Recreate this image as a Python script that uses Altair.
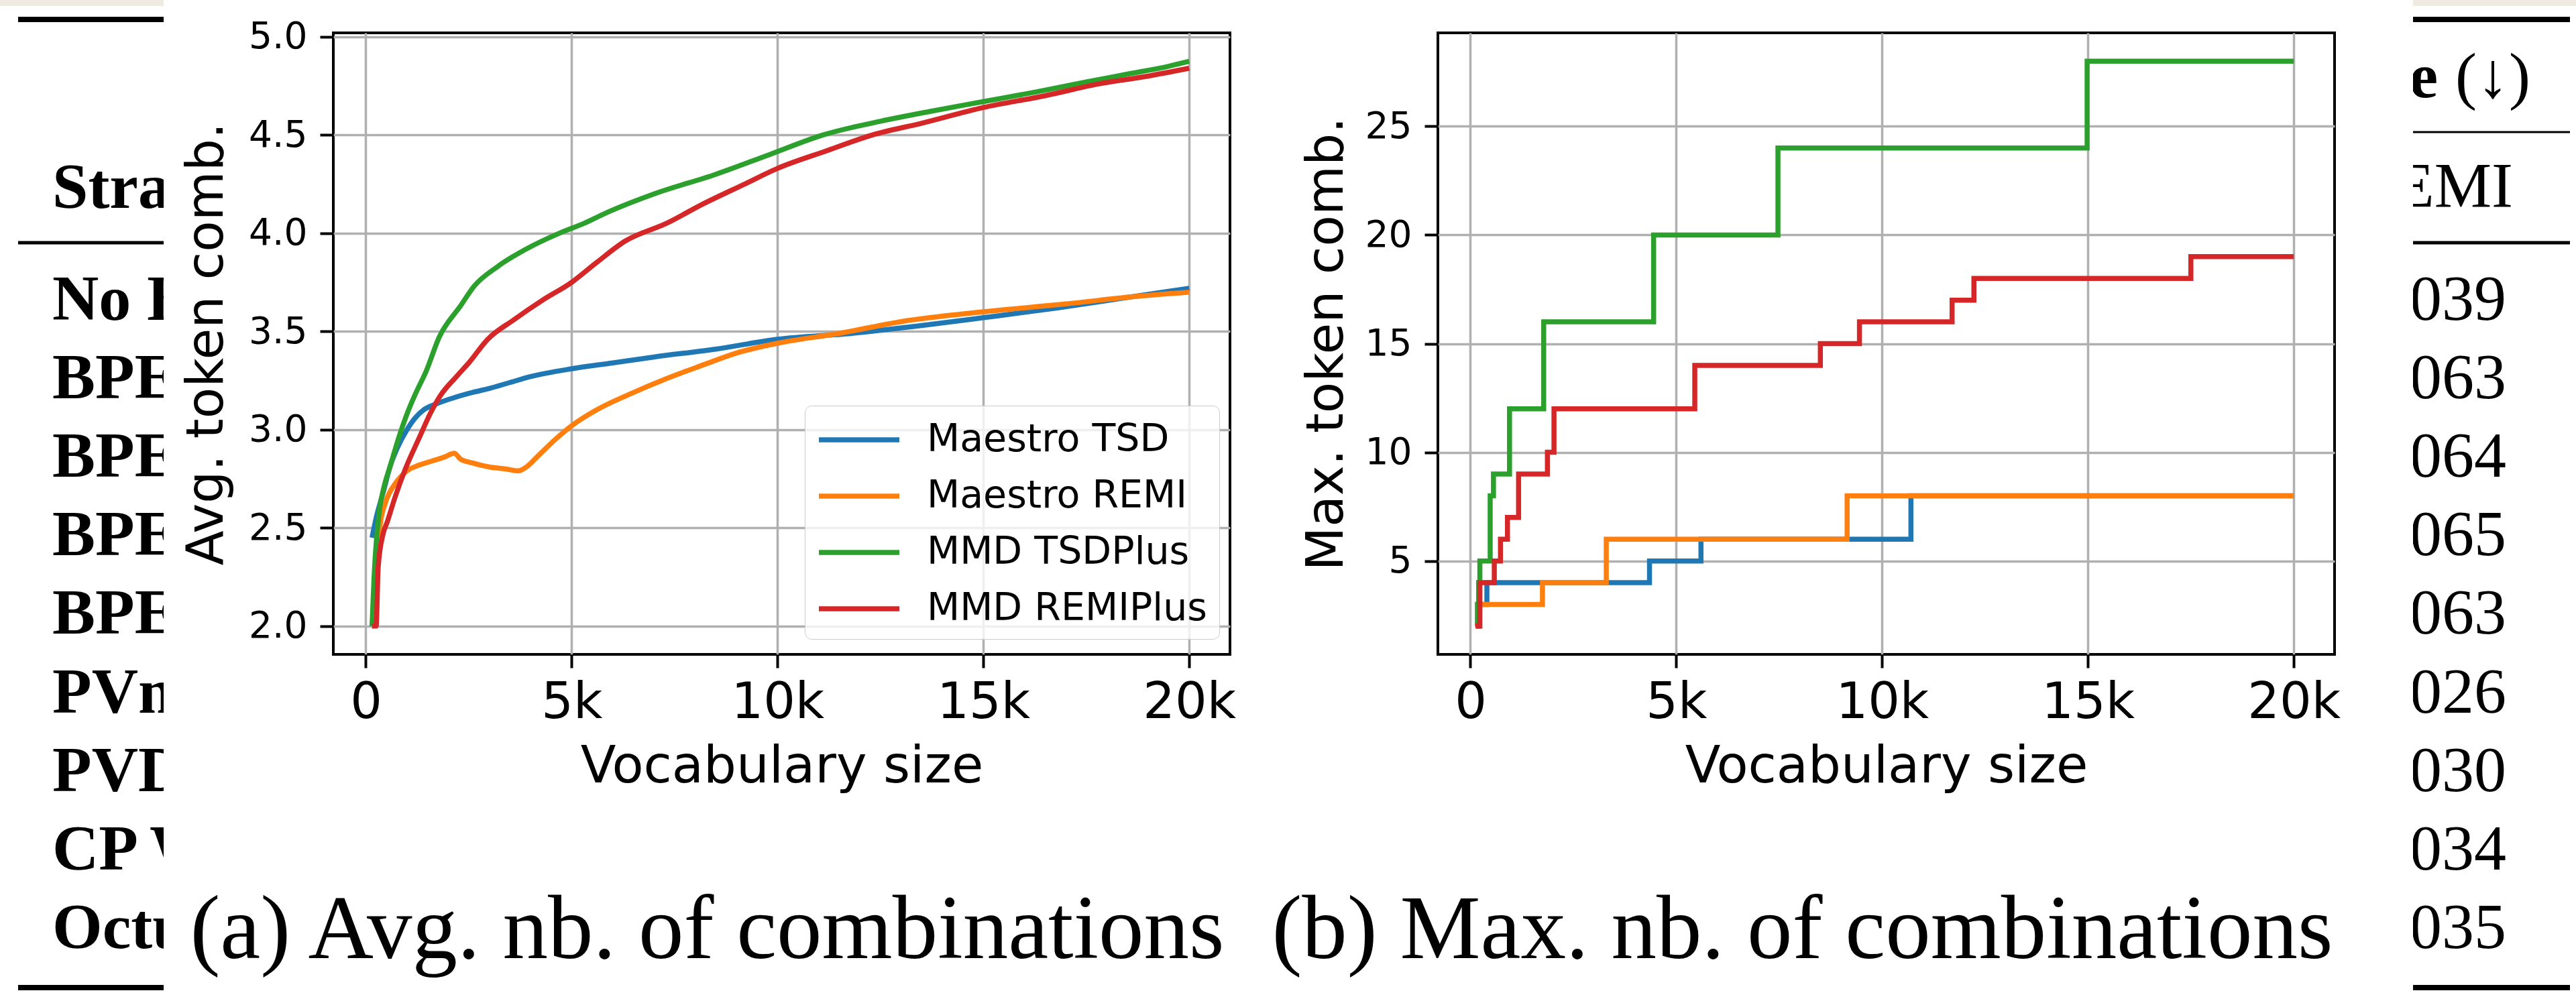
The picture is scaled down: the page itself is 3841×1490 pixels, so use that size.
import altair as alt
import pandas as pd

# ------------------------------------------------------------------ data
series = ["Maestro TSD", "Maestro REMI", "MMD TSDPlus", "MMD REMIPlus"]
colors = ["#1f77b4", "#ff7f0e", "#2ca02c", "#d62728"]

# (a) average number of token combinations
avg_x_tsd = [150, 250, 420, 600, 750, 1000, 1200, 1400, 1700, 2100, 2600, 3000, 3500, 4000,
             5000, 6000, 7000, 8500, 10000, 11800, 13500, 15000, 16800, 18400, 20000]
avg_y_tsd = [2.45, 2.55, 2.68, 2.82, 2.90, 3.00, 3.06, 3.10, 3.13, 3.16, 3.19, 3.21, 3.24, 3.27,
             3.31, 3.34, 3.37, 3.41, 3.46, 3.49, 3.53, 3.57, 3.62, 3.67, 3.72]

avg_x_remi = [270, 350, 480, 730, 1000, 1300, 1600, 1900, 2150, 2300, 2600, 3000, 3400, 3700,
              3900, 4200, 4600, 5000, 5600, 6400, 7300, 8200, 9000, 10000, 11500, 13000, 15000,
              17000, 18800, 20000]
avg_y_remi = [2.35, 2.52, 2.63, 2.73, 2.79, 2.82, 2.84, 2.86, 2.88, 2.85, 2.83, 2.81, 2.80, 2.79,
              2.81, 2.87, 2.95, 3.02, 3.10, 3.18, 3.26, 3.33, 3.39, 3.44, 3.49, 3.55, 3.60,
              3.64, 3.68, 3.70]

avg_x_tsdp = [150, 200, 330, 420, 600, 800, 1000, 1200, 1470, 1780, 2300, 2630, 3200, 3900,
              4700, 5300, 5800, 7000, 8500, 9800, 11100, 12500, 13700, 15000, 16300, 17500,
              18500, 19500, 20000]
avg_y_tsdp = [2.00, 2.25, 2.59, 2.69, 2.82, 2.96, 3.08, 3.18, 3.30, 3.47, 3.63, 3.73, 3.83, 3.92,
              4.00, 4.05, 4.10, 4.20, 4.30, 4.40, 4.50, 4.57, 4.62, 4.67, 4.72, 4.77,
              4.81, 4.85, 4.875]

avg_x_remip = [150, 250, 300, 420, 520, 700, 960, 1300, 1560, 1800, 2200, 2500, 2960, 3600,
               4300, 5000, 5600, 6300, 7300, 8200, 9200, 10000, 11200, 12300, 13500, 15000,
               16500, 17800, 19000, 20000]
avg_y_remip = [2.00, 2.00, 2.30, 2.47, 2.53, 2.65, 2.80, 2.96, 3.08, 3.17, 3.27, 3.34, 3.46, 3.56,
               3.66, 3.75, 3.85, 3.96, 4.05, 4.15, 4.25, 4.33, 4.42, 4.50, 4.56, 4.64,
               4.70, 4.76, 4.80, 4.84]

# (b) maximum number of token combinations (step changes)
max_x_tsd = [150, 200, 400, 4350, 5600, 10700, 20000]
max_y_tsd = [2, 3, 4, 5, 6, 8, 8]
max_x_remi = [270, 1750, 3300, 9150, 20000]
max_y_remi = [3, 4, 6, 8, 8]
max_x_tsdp = [150, 170, 200, 230, 480, 560, 950, 1780, 4450, 7470, 14980, 20000]
max_y_tsdp = [2, 3, 4, 5, 8, 9, 12, 16, 20, 24, 28, 28]
max_x_remip = [120, 230, 580, 730, 900, 1170, 1870, 2030, 5450, 8500, 9450, 11700, 12230, 17500, 20000]
max_y_remip = [2, 4, 5, 6, 7, 9, 10, 12, 14, 15, 16, 17, 18, 19, 19]

x_ticks = [0, 5000, 10000, 15000, 20000]
avg_ticks = [2.0, 2.5, 3.0, 3.5, 4.0, 4.5, 5.0]
max_ticks = [5, 10, 15, 20, 25]

# surrounding table (page context)
table_header_left = "Strategy"
table_rows = ["No BPE", "BPE 1k", "BPE 5k", "BPE 10k", "BPE 20k", "PVm", "PVDm", "CP Word", "Octuple"]
table_header_right_bold = "Rate"
table_header_right_arrow = "(\u2193)"
table_header_right_sub = "REMI"
table_values = ["0.039", "0.063", "0.064", "0.065", "0.063", "0.026", "0.030", "0.034", "0.035"]

caption_a = "(a) Avg. nb. of combinations"
caption_b = "(b) Max. nb. of combinations"


def frame(xs, ys, name):
    return pd.DataFrame({"vocab": xs, "value": ys, "series": name})


df_avg = pd.concat([
    frame(avg_x_tsd, avg_y_tsd, series[0]),
    frame(avg_x_remi, avg_y_remi, series[1]),
    frame(avg_x_tsdp, avg_y_tsdp, series[2]),
    frame(avg_x_remip, avg_y_remip, series[3]),
], ignore_index=True)

df_max = pd.concat([
    frame(max_x_tsd, max_y_tsd, series[0]),
    frame(max_x_remi, max_y_remi, series[1]),
    frame(max_x_tsdp, max_y_tsdp, series[2]),
    frame(max_x_remip, max_y_remip, series[3]),
], ignore_index=True)

# ------------------------------------------------------------------ style
FONT = "DejaVu Sans"
SERIF = "Liberation Serif"
GRID = "#b0b0b0"
PLOT_W, PLOT_H = 1337, 927
TABLE_H = 1441
LEFT_W, RIGHT_W = 244, 243
LINE_W = 7.5

x_scale = alt.Scale(domain=[-790, 20990], nice=False, zero=False)
color_scale = alt.Scale(domain=series, range=colors)


def x_axis():
    return alt.Axis(
        values=x_ticks,
        labelExpr="datum.value == 0 ? '0' : format(datum.value / 1000, 'd') + 'k'",
        title="Vocabulary size", grid=True, gridColor=GRID, gridWidth=3.5,
        domain=False, ticks=True, tickColor="black", tickWidth=4, tickSize=20,
        labelFont=FONT, labelFontSize=75, labelColor="black", labelPadding=15,
        labelFlush=False, labelOverlap=False,
        titleFont=FONT, titleFontSize=77, titleFontWeight="normal", titleColor="black",
        titleBaseline="alphabetic", titleY=190,
    )


def y_axis(values, fmt, title, title_x):
    return alt.Axis(
        values=values, format=fmt, title=title, grid=True, gridColor=GRID, gridWidth=3.5,
        domain=False, ticks=True, tickColor="black", tickWidth=4, tickSize=20,
        labelFont=FONT, labelFontSize=55, labelColor="black", labelPadding=19,
        labelOverlap=False,
        titleFont=FONT, titleFontSize=76, titleFontWeight="normal", titleColor="black",
        titleBaseline="alphabetic", titleX=title_x,
    )


def caption(text, dx):
    d = pd.DataFrame({"t": [text]})
    return alt.Chart(d).mark_text(
        align="center", baseline="alphabetic", font=SERIF, fontSize=135,
        fontWeight="normal", color="black",
    ).encode(x=alt.value(PLOT_W / 2 + dx), y=alt.value(PLOT_H + 453), text="t:N")


legend = alt.Legend(
    title=None, orient="none", legendX=1200, legendY=556, direction="vertical",
    symbolType="M-1,0H3", symbolSize=3600, symbolStrokeWidth=LINE_W,
    labelFont=FONT, labelFontSize=57, labelColor="black", labelOffset=97, labelLimit=1000,
    rowPadding=22, padding=17, strokeColor="#cccccc", cornerRadius=10,
    fillColor="rgba(255,255,255,0.8)",
)

frame_view = alt.ViewBackground(stroke="black", strokeWidth=4)
no_view = alt.ViewBackground(stroke=None)

lines_a = alt.Chart(df_avg).mark_line(strokeWidth=LINE_W, clip=True, interpolate="monotone").encode(
    x=alt.X("vocab:Q", scale=x_scale, axis=x_axis()),
    y=alt.Y("value:Q", scale=alt.Scale(domain=[1.856, 5.02], nice=False, zero=False),
            axis=y_axis(avg_ticks, ".1f", "Avg. token comb.", -166)),
    color=alt.Color("series:N", scale=color_scale, legend=legend),
)
chart_a = alt.layer(lines_a, caption(caption_a, -111)).properties(
    width=PLOT_W, height=PLOT_H, view=frame_view)

lines_b = alt.Chart(df_max).mark_line(strokeWidth=LINE_W, clip=True, interpolate="step-after").encode(
    x=alt.X("vocab:Q", scale=x_scale, axis=x_axis()),
    y=alt.Y("value:Q", scale=alt.Scale(domain=[0.7, 29.3], nice=False, zero=False),
            axis=y_axis(max_ticks, "d", "Max. token comb.", -143)),
    color=alt.Color("series:N", scale=color_scale, legend=None),
)
chart_b = alt.layer(lines_b, caption(caption_b, -125)).properties(
    width=PLOT_W, height=PLOT_H, view=frame_view)

# ------------------------------------------------------------------ table fragments
ROW0, PITCH = 428, 117.1
tbl_scale = alt.Scale(domain=[0, 8], range=[ROW0, ROW0 + 8 * PITCH])
HDR1_ROW, HDR2_ROW = -2.835, -1.435
RULE_TOP, RULE_MID, RULE_HEAD, RULE_BOT = -3.826, -2.391, -0.982, 8.505
STRIP_TOP, STRIP_BOT = -4.073, -3.996
BEIGE = "#efebe2"


def ty(field):
    return alt.Y(field, type="quantitative", scale=tbl_scale, axis=None)


def strip(width):
    d = pd.DataFrame({"a": [STRIP_TOP], "b": [STRIP_BOT]})
    return alt.Chart(d).mark_rect(color=BEIGE).encode(
        x=alt.value(0), x2=alt.value(width), y=ty("a"), y2="b:Q")


def rules(rows, widths, x0, x1):
    d = pd.DataFrame({"row": rows, "w": widths})
    return alt.Chart(d).mark_rule(color="black").encode(
        x=alt.value(x0), x2=alt.value(x1), y=ty("row"),
        strokeWidth=alt.StrokeWidth("w:Q", scale=None, legend=None))


left_df = pd.DataFrame({"label": [table_header_left] + table_rows,
                        "row": [-1.426] + list(range(len(table_rows)))})
left_text = alt.Chart(left_df).mark_text(
    align="left", baseline="alphabetic", font=SERIF, fontSize=96, fontWeight="bold",
    color="black", clip=True,
).encode(x=alt.value(78), y=ty("row"), text="label:N")

p_left = alt.layer(
    strip(LEFT_W),
    rules([RULE_TOP, RULE_HEAD, RULE_BOT], [8, 5, 8], 27, LEFT_W),
    left_text,
).properties(width=LEFT_W, height=TABLE_H, view=no_view)

vals_df = pd.DataFrame({"label": table_values, "row": list(range(len(table_values)))})
right_vals = alt.Chart(vals_df).mark_text(
    align="right", baseline="alphabetic", font=SERIF, fontSize=96, color="black", clip=True,
).encode(x=alt.value(139), y=ty("row"), text="label:N")

hb_df = pd.DataFrame({"label": [table_header_right_bold], "row": [HDR1_ROW]})
right_hb = alt.Chart(hb_df).mark_text(
    align="right", baseline="alphabetic", font=SERIF, fontSize=96, fontWeight="bold",
    color="black", clip=True,
).encode(x=alt.value(37), y=ty("row"), text="label:N")

ha_df = pd.DataFrame({"label": [table_header_right_arrow], "row": [HDR1_ROW]})
right_ha = alt.Chart(ha_df).mark_text(
    align="left", baseline="alphabetic", font=SERIF, fontSize=96, color="black", clip=True,
).encode(x=alt.value(63), y=ty("row"), text="label:N")

hs_df = pd.DataFrame({"label": [table_header_right_sub], "row": [HDR2_ROW]})
right_hs = alt.Chart(hs_df).mark_text(
    align="right", baseline="alphabetic", font=SERIF, fontSize=96, color="black", clip=True,
).encode(x=alt.value(149), y=ty("row"), text="label:N")

p_right = alt.layer(
    strip(RIGHT_W),
    rules([RULE_TOP, RULE_MID, RULE_HEAD, RULE_BOT], [8, 3, 5, 8], 0, 234),
    right_hb, right_ha, right_hs, right_vals,
).properties(width=RIGHT_W, height=TABLE_H, view=no_view)


def spacer(w):
    return alt.Chart(pd.DataFrame({"s": [0]})).mark_point(opacity=0, size=0).encode(
        x=alt.value(0), y=alt.value(0)).properties(width=w, height=1, view=no_view)


chart = alt.hconcat(
    p_left, spacer(253), chart_a, spacer(310), chart_b, spacer(117), p_right,
    spacing=0, bounds="flush", padding=0,
).configure_view(stroke=None).configure_legend(strokeWidth=3).configure(
    font=FONT, background="white")

chart.save("out.html", embed_options={"renderer": "svg", "actions": False})
